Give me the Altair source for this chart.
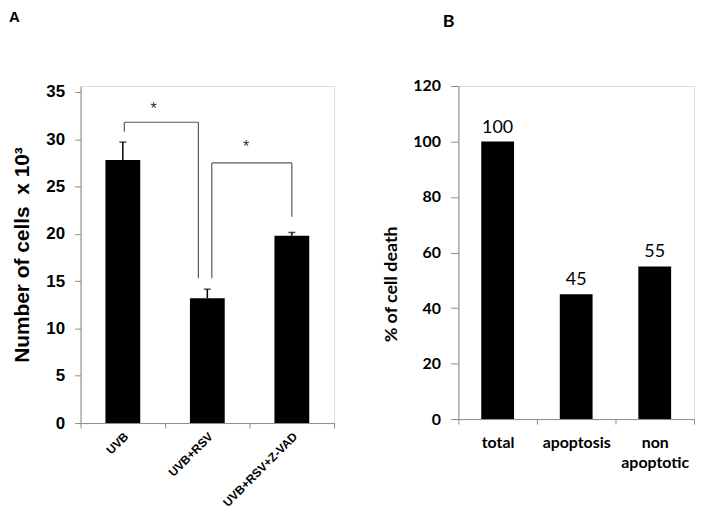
import altair as alt
import pandas as pd

# ---------------- Panel A data ----------------
a_groups = ["UVB", "UVB+RSV", "UVB+RSV+Z-VAD"]
a_means = [27.8, 13.2, 19.8]
a_errors = [1.9, 0.95, 0.35]

# significance brackets (from group, to group, bracket top, end of left drop, end of right drop, star level)
br_from = ["UVB", "UVB+RSV"]
br_to = ["UVB+RSV", "UVB+RSV+Z-VAD"]
br_top = [31.8, 27.5]
br_left_end = [30.8, 15.3]
br_right_end = [15.3, 21.8]
br_star = [33.6, 29.6]
br_label = ["*", "*"]

# ---------------- Panel B data ----------------
b_groups = ["total", "apoptosis", "non apoptotic"]
b_values = [100, 45, 55]

AXIS_GREY = "#8c8c8c"
BRACKET_GREY = "#5a5a5a"

dfA = pd.DataFrame({"group": a_groups, "mean": a_means, "err": a_errors})
dfA["upper"] = dfA["mean"] + dfA["err"]

scaleA = alt.Scale(domain=a_groups, paddingInner=0, paddingOuter=0)
yscaleA = alt.Scale(domain=[0, 35.63], nice=False)

xA_axis = alt.Axis(
    labelAngle=315, labelAlign="right", labelBaseline="middle",
    labelFont="Liberation Sans", labelFontSize=12, labelFontWeight="bold",
    labelColor="black", labelPadding=6, labelOffset=3,
    tickBand="extent", tickSize=5, tickColor=AXIS_GREY,
    domainColor=AXIS_GREY, domainWidth=1,
)
yA_axis = alt.Axis(
    values=[0, 5, 10, 15, 20, 25, 30, 35], grid=False,
    title="Number of cells\u00a0 x 10³", titleFont="Liberation Sans",
    titleFontSize=21, titleFontWeight="bold", titleColor="black",
    titlePadding=13,
    labelFont="Liberation Sans", labelFontSize=17, labelFontWeight="bold",
    labelColor="black", labelPadding=10, tickSize=6,
    tickColor=AXIS_GREY, domainColor=AXIS_GREY,
)

barsA = alt.Chart(dfA).mark_bar(color="black", width=35).encode(
    x=alt.X("group:N", scale=scaleA, axis=xA_axis, title=None),
    y=alt.Y("mean:Q", scale=yscaleA, axis=yA_axis),
)
errA = alt.Chart(dfA).mark_rule(color="black", strokeWidth=1.5).encode(
    x=alt.X("group:N", scale=scaleA),
    y=alt.Y("mean:Q", scale=yscaleA),
    y2="upper:Q",
)
capA = alt.Chart(dfA).mark_tick(color="black", thickness=1.5, size=7, orient="horizontal").encode(
    x=alt.X("group:N", scale=scaleA),
    y=alt.Y("upper:Q", scale=yscaleA),
)

dfBr = pd.DataFrame({
    "from": br_from, "to": br_to, "top": br_top,
    "lend": br_left_end, "rend": br_right_end, "star": br_star, "lab": br_label,
})

# pixel nudges of bracket ends relative to bar centres (style only)
nudges = [(1.5, -9, 31), (4.5, 0, 39)]
bracket_layers = []
for i, (lo, ro, so) in enumerate(nudges):
    d = dfBr.iloc[[i]]
    horiz = alt.Chart(d).mark_rule(color=BRACKET_GREY, strokeWidth=1.2, xOffset=lo, x2Offset=ro).encode(
        x=alt.X("from:N", scale=scaleA), x2="to:N",
        y=alt.Y("top:Q", scale=yscaleA),
    )
    left = alt.Chart(d).mark_rule(color=BRACKET_GREY, strokeWidth=1.2, xOffset=lo).encode(
        x=alt.X("from:N", scale=scaleA),
        y=alt.Y("top:Q", scale=yscaleA), y2="lend:Q",
    )
    right = alt.Chart(d).mark_rule(color=BRACKET_GREY, strokeWidth=1.2, xOffset=ro).encode(
        x=alt.X("to:N", scale=scaleA),
        y=alt.Y("top:Q", scale=yscaleA), y2="rend:Q",
    )
    star = alt.Chart(d).mark_text(font="Liberation Sans", fontSize=16, color="#333333",
                                  baseline="middle", dx=so, dy=4).encode(
        x=alt.X("from:N", scale=scaleA),
        y=alt.Y("star:Q", scale=yscaleA),
        text="lab:N",
    )
    bracket_layers += [horiz, left, right, star]

panelA = alt.layer(barsA, errA, capA, *bracket_layers).properties(
    width=255, height=339,
    title=alt.TitleParams("A", anchor="start", font="Liberation Sans", fontSize=15,
                          fontWeight="bold", color="black", offset=58, dx=-3),
)

# ---------------- Panel B ----------------
dfB = pd.DataFrame({"cat": b_groups, "value": b_values})
scaleB = alt.Scale(domain=b_groups, paddingInner=0, paddingOuter=0)
yscaleB = alt.Scale(domain=[0, 120], nice=False)

xB_axis = alt.Axis(
    labelAngle=0, labelExpr="split(datum.label, ' ')", labelBaseline="top",
    labelFont="Lato", labelFontSize=16, labelFontWeight="bold", labelColor="black",
    labelLineHeight=20, labelPadding=11,
    tickBand="extent", tickSize=5, tickColor=AXIS_GREY, domainColor=AXIS_GREY,
)
yB_axis = alt.Axis(
    values=[0, 20, 40, 60, 80, 100, 120], grid=False,
    title="% of cell death", titleFont="Lato", titleFontSize=18,
    titleFontWeight="bold", titleColor="black", titleY=199, titlePadding=12,
    labelFont="Lato", labelFontSize=16, labelFontWeight="bold", labelColor="black",
    labelPadding=10, tickSize=8, tickColor=AXIS_GREY, domainColor=AXIS_GREY,
)

barsB = alt.Chart(dfB).mark_bar(color="black", width=33).encode(
    x=alt.X("cat:N", scale=scaleB, axis=xB_axis, title=None),
    y=alt.Y("value:Q", scale=yscaleB, axis=yB_axis),
)
textB = alt.Chart(dfB).mark_text(baseline="bottom", dy=-5, font="Lato", fontSize=18,
                                 color="black").encode(
    x=alt.X("cat:N", scale=scaleB),
    y=alt.Y("value:Q", scale=yscaleB),
    text="value:Q",
)

panelB = alt.layer(barsB, textB).properties(
    width=237, height=335,
    title=alt.TitleParams("B", anchor="start", font="Lato", fontSize=18,
                          fontWeight="bold", color="black", offset=47, dx=60),
)

chart = alt.hconcat(panelA, panelB, spacing=47).properties(
    padding={"left": 0, "top": 0, "right": 0, "bottom": 0}
).configure_view(strokeWidth=0).configure(background="white")

chart.save("out.html", embed_options={"renderer": "svg", "actions": False})
